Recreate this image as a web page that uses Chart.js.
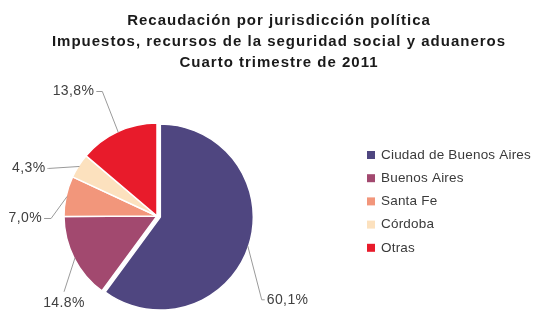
<!DOCTYPE html>
<html>
<head>
<meta charset="utf-8">
<script src="https://cdn.jsdelivr.net/npm/chart.js@4"></script>
<style>
html,body{margin:0;padding:0;background:#fff;}
#wrap{position:relative;width:536px;height:316px;}
</style>
</head>
<body>
<div id="wrap"><canvas id="c" width="536" height="316"></canvas></div>
<script>
const titleLines = ["Recaudación por jurisdicción política", "Impuestos, recursos de la seguridad social y aduaneros", "Cuarto trimestre de 2011"];
const categories = ["Ciudad de Buenos Aires", "Buenos Aires", "Santa Fe", "Córdoba", "Otras"];
const shares = [60.1, 14.8, 7.0, 4.3, 13.8];
const valueLabels = ["60,1%", "14.8%", "7,0%", "4,3%", "13,8%"];
const colors = ["#4F4680", "#A2496F", "#F2967B", "#FCE1BE", "#E81B2B"];

const FONT = "'Liberation Sans', Arial, sans-serif";

const titlePlugin = {
  id: 'customTitle',
  afterDraw(chart, args, o) {
    const ctx = chart.ctx;
    ctx.save();
    ctx.fillStyle = '#1a1a1a';
    ctx.font = 'bold 15px ' + FONT;
    ctx.textAlign = 'center';
    ctx.textBaseline = 'middle';
    if ('letterSpacing' in ctx) ctx.letterSpacing = o.letterSpacing;
    titleLines.forEach((t, i) => ctx.fillText(t, o.center, o.ys[i]));
    ctx.restore();
  }
};

const explodePlugin = {
  id: 'explode',
  beforeDatasetsDraw(chart, args, o) {
    const arc = chart.getDatasetMeta(0).data[o.index];
    if (!arc || arc._exploded) return;
    const orig = arc.draw;
    arc.draw = function (ctx) {
      const m = (this.startAngle + this.endAngle) / 2;
      ctx.save();
      ctx.translate(Math.cos(m) * o.distance, Math.sin(m) * o.distance);
      orig.call(this, ctx);
      ctx.restore();
    };
    arc._exploded = true;
  }
};

const leaderPlugin = {
  id: 'leaders',
  afterDatasetsDraw(chart, args, o) {
    const ctx = chart.ctx;
    const meta = chart.getDatasetMeta(0);
    const ex = chart.options.plugins.explode;
    ctx.save();
    ctx.font = '14px ' + FONT;
    if ('letterSpacing' in ctx) ctx.letterSpacing = '0.4px';
    meta.data.forEach((arc, i) => {
      const m = (arc.startAngle + arc.endAngle) / 2;
      let cx = arc.x, cy = arc.y;
      if (i === ex.index) { cx += Math.cos(m) * ex.distance; cy += Math.sin(m) * ex.distance; }
      const r = arc.outerRadius - 1;
      const ax = cx + Math.cos(m) * r, ay = cy + Math.sin(m) * r;
      const p = o.pos[i];
      const ex2 = ax + p.dx, ey2 = ay + p.dy;
      ctx.strokeStyle = '#9a9a9a';
      ctx.lineWidth = 1;
      ctx.beginPath();
      ctx.moveTo(ax, ay);
      ctx.lineTo(ex2, ey2);
      let tx = ex2, ty = ey2;
      const tick = p.tick || 0;
      if (p.align === 'left') { ctx.lineTo(ex2 + tick, ey2); tx = ex2 + tick + 2; }
      else if (p.align === 'right') { ctx.lineTo(ex2 - tick, ey2); tx = ex2 - tick - 2; }
      else { ty = ey2 + 11; }
      ctx.stroke();
      ctx.fillStyle = '#404040';
      ctx.textAlign = p.align === 'below' ? 'center' : p.align;
      ctx.textBaseline = 'middle';
      ctx.fillText(valueLabels[i], tx, ty);
    });
    ctx.restore();
  }
};

const legendPlugin = {
  id: 'sideLegend',
  afterDraw(chart, args, o) {
    const ctx = chart.ctx;
    const ds = chart.data.datasets[0];
    ctx.save();
    ctx.font = '13.5px ' + FONT;
    if ('letterSpacing' in ctx) ctx.letterSpacing = '0.2px';
    ctx.textBaseline = 'middle';
    ctx.textAlign = 'left';
    chart.data.labels.forEach((lab, i) => {
      const y = o.y0 + i * o.step;
      ctx.fillStyle = ds.backgroundColor[i];
      ctx.fillRect(o.x, y - 4, 8, 8);
      ctx.fillStyle = '#3a3a3a';
      ctx.fillText(lab, o.x + 14, y);
    });
    ctx.restore();
  }
};

new Chart(document.getElementById('c'), {
  type: 'pie',
  data: {
    labels: categories,
    datasets: [{
      data: shares,
      backgroundColor: colors,
      borderColor: '#ffffff',
      borderWidth: 1.5,
      radius: 93
    }]
  },
  options: {
    responsive: false,
    animation: false,
    events: [],
    layout: { padding: { top: 116, right: 222, left: 0, bottom: 0 } },
    plugins: {
      legend: { display: false },
      title: { display: false },
      tooltip: { enabled: false },
      customTitle: { center: 279, ys: [21, 42, 63], letterSpacing: '1px' },
      explode: { index: 0, distance: 3.5 },
      leaders: {
        pos: [
          { dx: 14, dy: 54, align: 'left', tick: 3 },
          { dx: -11, dy: 34, align: 'below' },
          { dx: -16, dy: 22, align: 'right', tick: 7 },
          { dx: -31, dy: 2, align: 'right', tick: 1 },
          { dx: -16, dy: -41, align: 'right', tick: 6 }
        ]
      },
      sideLegend: { x: 367, y0: 155, step: 23.2 }
    }
  },
  plugins: [titlePlugin, explodePlugin, leaderPlugin, legendPlugin]
});
</script>
</body>
</html>
